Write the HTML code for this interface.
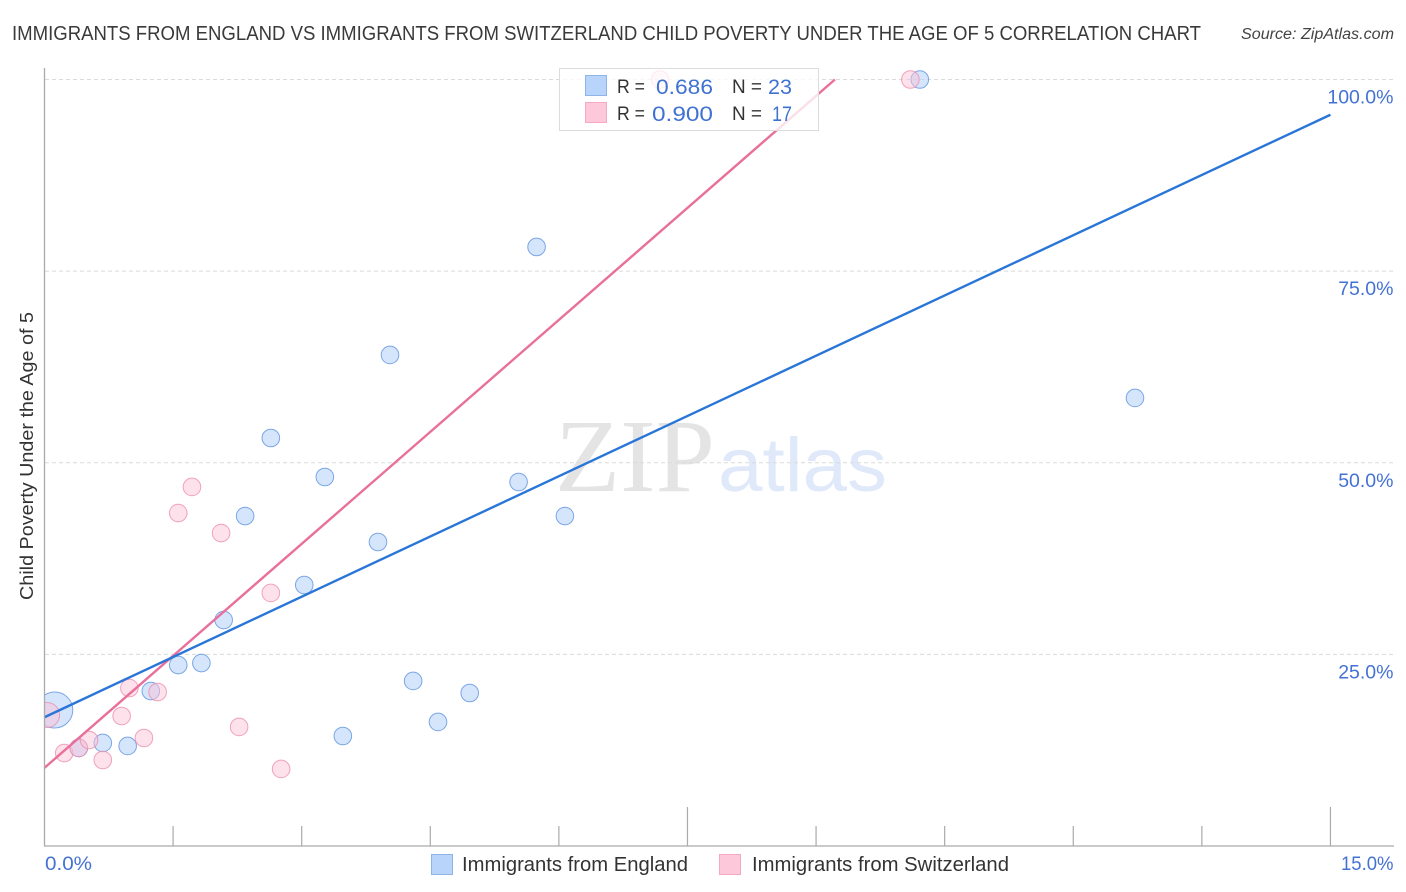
<!DOCTYPE html>
<html lang="en">
<head>
<meta charset="utf-8">
<title>Immigrants from England vs Immigrants from Switzerland Child Poverty Correlation Chart</title>
<style>
  html, body { margin: 0; padding: 0; background: #fff; }
  body { width: 1406px; height: 892px; overflow: hidden; }
  svg { display: block; font-family: "Liberation Sans", sans-serif; }
</style>
</head>
<body>
<svg id="chart" xmlns="http://www.w3.org/2000/svg" width="1406" height="892" viewBox="0 0 1406 892">
  <rect width="1406" height="892" fill="#fff"/>

  <text x="12" y="40" font-size="20" fill="#3a3a3a" textLength="1189" lengthAdjust="spacingAndGlyphs">IMMIGRANTS FROM ENGLAND VS IMMIGRANTS FROM SWITZERLAND CHILD POVERTY UNDER THE AGE OF 5 CORRELATION CHART</text>
  <text x="1241" y="39" font-size="15.5" font-style="italic" fill="#444" textLength="153" lengthAdjust="spacingAndGlyphs">Source: ZipAtlas.com</text>

  <g>
    <text x="555" y="491" font-family="'Liberation Serif', serif" font-size="104" fill="#e4e4e4" textLength="160" lengthAdjust="spacingAndGlyphs">ZIP</text>
    <text x="718" y="491" font-size="76" fill="#dfe9fa" textLength="169" lengthAdjust="spacingAndGlyphs">atlas</text>
  </g>

  <g id="grid"></g>

  <svg x="45" y="60" width="1350" height="786" viewBox="45 60 1350 786" overflow="hidden">
    <g id="points-england"></g>
    <g id="points-switzerland"></g>
    <g id="trends"></g>
  </svg>

  <rect x="0" y="670" width="44" height="80" fill="#fff"/>

  <g>
    <rect x="559.5" y="68.5" width="259" height="62" fill="#fff" fill-opacity="0.78" stroke="#dcdcdc" stroke-width="1"/>
    <rect x="585.5" y="75.5" width="21" height="20" fill="#b9d4fa" stroke="#8fb4e8"/>
    <rect x="585.5" y="102.5" width="21" height="20" fill="#fcc8da" stroke="#f5a9c2"/>
    <text x="617" y="93" font-size="19" fill="#333" textLength="28" lengthAdjust="spacingAndGlyphs">R =</text>
    <text x="656" y="94" font-size="21.5" fill="#3f72d2" textLength="57" lengthAdjust="spacingAndGlyphs">0.686</text>
    <text x="732" y="93" font-size="19" fill="#333" textLength="30" lengthAdjust="spacingAndGlyphs">N =</text>
    <text x="768" y="94" font-size="21.5" fill="#3f72d2" textLength="24" lengthAdjust="spacingAndGlyphs">23</text>
    <text x="617" y="120" font-size="19" fill="#333" textLength="28" lengthAdjust="spacingAndGlyphs">R =</text>
    <text x="652" y="121" font-size="21.5" fill="#3f72d2" textLength="61" lengthAdjust="spacingAndGlyphs">0.900</text>
    <text x="732" y="120" font-size="19" fill="#333" textLength="30" lengthAdjust="spacingAndGlyphs">N =</text>
    <text x="772" y="121" font-size="21.5" fill="#3f72d2" textLength="20" lengthAdjust="spacingAndGlyphs">17</text>
  </g>

  <g id="axes"></g>

  <text transform="translate(33,600) rotate(-90)" font-size="18.5" fill="#333" textLength="288" lengthAdjust="spacingAndGlyphs">Child Poverty Under the Age of 5</text>

  <g>
    <rect x="431.5" y="854.5" width="21" height="20" fill="#b9d4fa" stroke="#8fb4e8"/>
    <text x="462" y="871" font-size="20" fill="#333" textLength="226" lengthAdjust="spacingAndGlyphs">Immigrants from England</text>
    <rect x="719.5" y="854.5" width="21" height="20" fill="#fcc8da" stroke="#f5a9c2"/>
    <text x="752" y="871" font-size="20" fill="#333" textLength="257" lengthAdjust="spacingAndGlyphs">Immigrants from Switzerland</text>
  </g>
</svg>

<script>
const englandX = [0.12, 0.40, 0.68, 0.97, 1.24, 1.56, 1.83, 2.09, 2.34, 2.64, 3.03, 3.27, 3.48, 3.89, 4.03, 4.30, 4.59, 4.96, 5.53, 5.74, 6.07, 10.21, 12.72];
const englandY = [17.74, 12.79, 13.44, 13.05, 20.22, 23.61, 23.87, 29.48, 43.05, 53.23, 34.05, 48.14, 14.35, 39.66, 64.06, 21.53, 16.18, 19.96, 47.49, 78.15, 43.05, 100, 58.45];
const englandWeight = [4, 1, 1, 1, 1, 1, 1, 1, 1, 1, 1, 1, 1, 1, 1, 1, 1, 1, 1, 1, 1, 1, 1];

const switzerlandX = [0.03, 0.23, 0.40, 0.52, 0.68, 0.90, 0.99, 1.16, 1.32, 1.56, 1.72, 2.06, 2.27, 2.64, 2.76, 7.18, 10.10];
const switzerlandY = [17.09, 12.13, 12.79, 13.83, 11.22, 16.96, 20.61, 14.09, 20.09, 43.44, 46.84, 40.83, 15.53, 33.01, 10.05, 100, 100];
const switzerlandWeight = [2, 1, 1, 1, 1, 1, 1, 1, 1, 1, 1, 1, 1, 1, 1, 1, 1];

const englandTrendX = [0, 15];
const englandTrendY = [16.8, 95.4];
const switzerlandTrendX = [0, 9.22];
const switzerlandTrendY = [10.2, 100];

const yTickValues = [25, 50, 75, 100];
const yTickLabels = ["25.0%", "50.0%", "75.0%", "100.0%"];
const xTickValues = [0, 1.5, 3, 4.5, 6, 7.5, 9, 10.5, 12, 13.5, 15];
const xEndLabels = ["0.0%", "15.0%"];

const NS = "http://www.w3.org/2000/svg";
function xScale(v) { return 44.5 + v * 85.73; }
function yScale(v) { return 846 - v * 7.665; }
function radius(w) { return w >= 4 ? 18 : (w >= 2 ? 12.5 : 8.8); }
function make(tag, parentId, attrs) {
  const el = document.createElementNS(NS, tag);
  for (const k in attrs) el.setAttribute(k, attrs[k]);
  document.getElementById(parentId).appendChild(el);
  return el;
}

yTickValues.forEach(function (v, i) {
  const g = make("line", "grid", { x1: 45, x2: 1394, y1: yScale(v), y2: yScale(v), stroke: "#dadada", "stroke-width": 1, "stroke-dasharray": "4 3" });
  
  
  const t = make("text", "axes", { x: 1393.5, y: yScale(v) + 24, "text-anchor": "end", "font-size": 19.5, fill: "#4472d4" });
  t.textContent = yTickLabels[i];
  
  
});

englandX.forEach(function (x, i) {
  const c = make("circle", "points-england", { cx: xScale(x), cy: yScale(englandY[i]), r: radius(englandWeight[i]), fill: "#b9d4fa", "fill-opacity": 0.6, stroke: "#5f93e0", "stroke-opacity": 0.8, "stroke-width": 1 });
  
  
});

switzerlandX.forEach(function (x, i) {
  const c = make("circle", "points-switzerland", { cx: xScale(x), cy: yScale(switzerlandY[i]), r: radius(switzerlandWeight[i]), fill: "#fbc4d7", "fill-opacity": 0.5, stroke: "#ec88a8", "stroke-opacity": 0.75, "stroke-width": 1 });
  
  
});

const switzerlandLine = make("line", "trends", { x1: xScale(switzerlandTrendX[0]), y1: yScale(switzerlandTrendY[0]), x2: xScale(switzerlandTrendX[1]), y2: yScale(switzerlandTrendY[1]), stroke: "#e8709b", "stroke-width": 2.4 });



const englandLine = make("line", "trends", { x1: xScale(englandTrendX[0]), y1: yScale(englandTrendY[0]), x2: xScale(englandTrendX[1]), y2: yScale(englandTrendY[1]), stroke: "#2a76d8", "stroke-width": 2.4 });



const yAxisLine = make("line", "axes", { x1: 44.5, x2: 44.5, y1: 68, y2: 846, stroke: "#aaa", "stroke-width": 1.3 });



const xAxisLine = make("line", "axes", { x1: 44, x2: 1394, y1: 846, y2: 846, stroke: "#aaa", "stroke-width": 1.3 });



xTickValues.forEach(function (v, i) {
  if (i === 0) return;
  const tick = make("line", "axes", { x1: xScale(v), x2: xScale(v), y1: i % 5 === 0 ? 807 : 826, y2: 846, stroke: "#aaa", "stroke-width": 1.2 });
  
  
});

const xLabelStart = make("text", "axes", { x: 45, y: 870, "font-size": 19.5, fill: "#4472d4", textLength: 47, lengthAdjust: "spacingAndGlyphs" });
xLabelStart.textContent = xEndLabels[0];



const xLabelEnd = make("text", "axes", { x: 1341, y: 870, "font-size": 19.5, fill: "#4472d4", textLength: 52.5, lengthAdjust: "spacingAndGlyphs" });
xLabelEnd.textContent = xEndLabels[1];


</script>
</body>
</html>
